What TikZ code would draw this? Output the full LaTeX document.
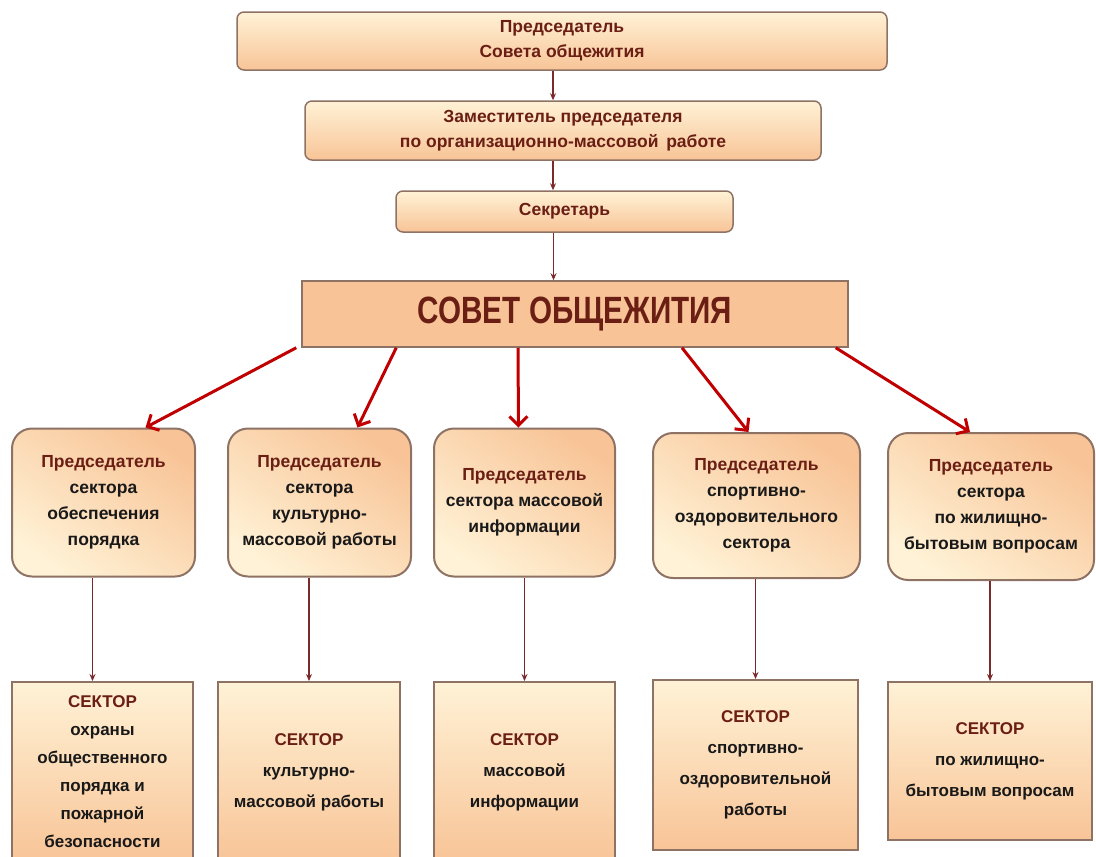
\documentclass[tikz,border=0pt]{standalone}
\usepackage{fontspec}
\setmainfont{Liberation Sans}
\newfontfamily\narrowfont[FakeStretch=0.78]{Liberation Sans}
\usetikzlibrary{arrows.meta,shapes}
\definecolor{maroon}{HTML}{6A1E14}
\definecolor{boxline}{HTML}{8E7264}
\definecolor{peach}{HTML}{F8C497}
\definecolor{cream}{HTML}{FFF2D6}
\definecolor{arrowred}{HTML}{C00000}
\definecolor{linkcol}{HTML}{7A2A2A}

\begin{document}
\begin{tikzpicture}[x=1pt,y=-1pt,
  every node/.style={align=center, inner sep=0pt, text=black!90},
  chief/.style={draw=boxline, line width=1.5pt, rounded corners=7pt, top color=cream, bottom color=peach, text=maroon,
    font=\bfseries\fontsize{17.5}{25}\selectfont},
  council/.style={draw=boxline, line width=1.5pt, fill=peach, text=maroon, font=\narrowfont\bfseries\fontsize{38}{38}\selectfont},
  head/.style={draw=boxline, line width=2pt, rounded corners=20pt, top color=peach, bottom color=cream, shading angle=-35,
    minimum height=148, font=\bfseries\fontsize{17.5}{26}\selectfont},
  sector/.style={draw=boxline, line width=2pt, top color=cream, bottom color=peach, font=\bfseries\fontsize{17}{31}\selectfont},
  link/.style={draw=linkcol, line width=1.5pt, -{Stealth[length=7pt,width=6pt]}},
  redarrow/.style={draw=arrowred, line width=3pt, -{Straight Barb[length=9pt,width=18pt]}}
]
\useasboundingbox (0,0) rectangle (1096,857);
\clip (0,0) rectangle (1096,857);

\node[chief, minimum width=650, minimum height=58] (pred) at (562,41) {Председатель\\Совета общежития};
\node[chief, minimum width=516, minimum height=59] (zam) at (563,130.5) {Заместитель председателя\\по организационно-массовой\, работе};
\node[chief, minimum width=337, minimum height=41] (sek) at (564.5,211.5) {Секретарь};
\node[council, minimum width=546, minimum height=66] (sovet) at (575,314) {СОВЕТ ОБЩЕЖИТИЯ};

\node[head, minimum width=183] (p1) at (103.5,502.5) {\textcolor{maroon}{Председатель}\\сектора\\обеспечения\\порядка};
\node[head, minimum width=183] (p2) at (319.5,502.5) {\textcolor{maroon}{Председатель}\\сектора\\культурно-\\массовой работы};
\node[head, minimum width=181] (p3) at (524.5,502.5) {\textcolor{maroon}{Председатель}\\сектора массовой\\информации};
\node[head, minimum width=207, minimum height=145] (p4) at (756.5,505.5) {\textcolor{maroon}{Председатель}\\спортивно-\\оздоровительного\\сектора};
\node[head, minimum width=206, minimum height=147] (p5) at (991,506.5) {\textcolor{maroon}{Председатель}\\сектора\\по жилищно-\\бытовым вопросам};

\node[sector, minimum width=181, minimum height=180, font=\bfseries\fontsize{17}{28}\selectfont] (s1) at (102.5,772) {\textcolor{maroon}{СЕКТОР}\\охраны\\общественного\\порядка и\\пожарной\\безопасности};
\node[sector, minimum width=182, minimum height=180] (s2) at (309,772) {\textcolor{maroon}{СЕКТОР}\\культурно-\\массовой работы};
\node[sector, minimum width=181, minimum height=180] (s3) at (524.5,772) {\textcolor{maroon}{СЕКТОР}\\массовой\\информации};
\node[sector, minimum width=205, minimum height=170] (s4) at (755.5,765) {\textcolor{maroon}{СЕКТОР}\\спортивно-\\оздоровительной\\работы};
\node[sector, minimum width=204, minimum height=158] (s5) at (990,761) {\textcolor{maroon}{СЕКТОР}\\по жилищно-\\бытовым вопросам};

\draw[link] ([xshift=-9pt]pred.south) -- ([xshift=-9pt]pred.south |- zam.north);
\draw[link] ([xshift=-10pt]zam.south) -- ([xshift=-10pt]zam.south |- sek.north);
\draw[link] ([xshift=-11pt]sek.south) -- ([xshift=-11pt]sek.south |- sovet.north);

\draw[redarrow] ([xshift=-5pt]sovet.south west) -- ([xshift=42pt]p1.north);
\draw[redarrow] ([xshift=95pt]sovet.south west) -- ([xshift=38pt]p2.north);
\draw[redarrow] ([xshift=-57pt]sovet.south) -- ([xshift=-6pt]p3.north);
\draw[redarrow] ([xshift=107pt]sovet.south) -- ([xshift=-8pt]p4.north);
\draw[redarrow] ([xshift=-13pt]sovet.south east) -- ([xshift=-21pt]p5.north);

\draw[link] ([xshift=-10pt]s1.north |- p1.south) -- ([xshift=-10pt]s1.north);
\draw[link] (s2.north |- p2.south) -- (s2.north);
\draw[link] (s3.north |- p3.south) -- (s3.north);
\draw[link] (s4.north |- p4.south) -- (s4.north);
\draw[link] (s5.north |- p5.south) -- (s5.north);
\end{tikzpicture}
\end{document}
